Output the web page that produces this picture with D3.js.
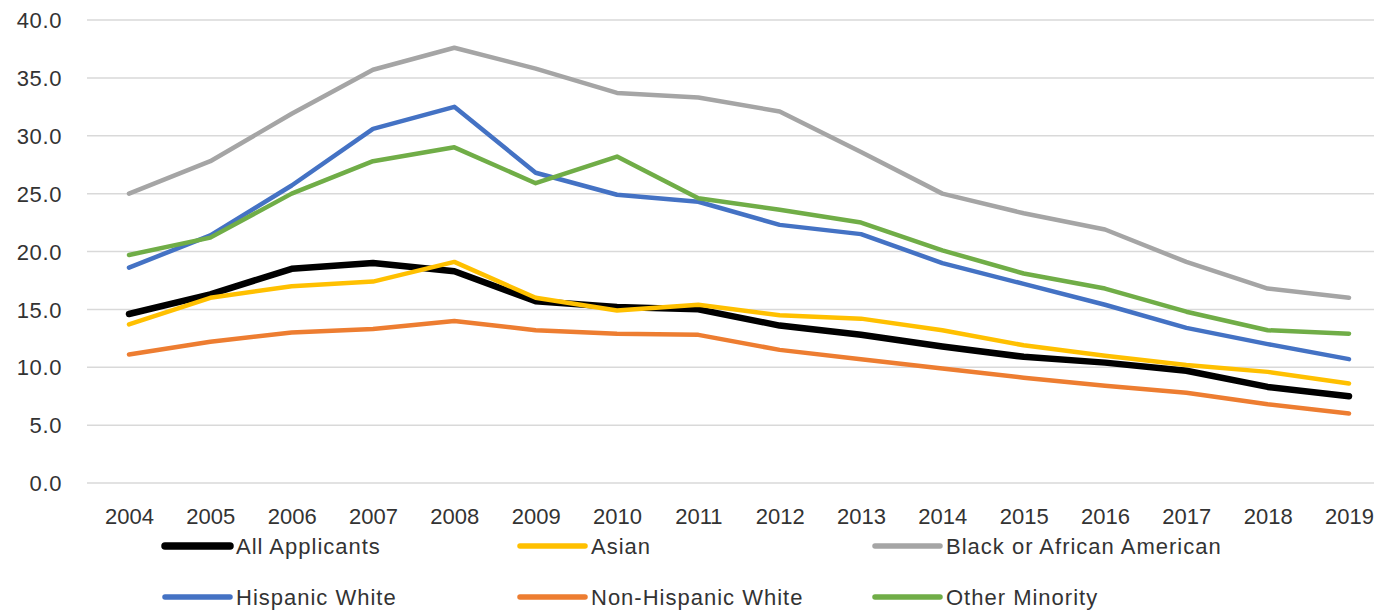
<!DOCTYPE html>
<html>
<head>
<meta charset="utf-8">
<script src="https://cdn.jsdelivr.net/npm/d3@7"></script>
<style>
  html, body { margin: 0; padding: 0; background: #fff; }
  svg text { font-family: "Liberation Sans", Arial, sans-serif; fill: #333333; }
</style>
</head>
<body>
<svg id="chart" width="1378" height="613"></svg>
<script>
// Years on the horizontal axis
const years = [2004, 2005, 2006, 2007, 2008, 2009, 2010, 2011, 2012, 2013, 2014, 2015, 2016, 2017, 2018, 2019];

// Rates by applicant group
const allApplicants   = [14.6, 16.3, 18.5, 19.0, 18.3, 15.7, 15.2, 15.0, 13.6, 12.8, 11.8, 10.9, 10.4, 9.7, 8.3, 7.5];
const asian           = [13.7, 16.0, 17.0, 17.4, 19.1, 16.0, 14.9, 15.4, 14.5, 14.2, 13.2, 11.9, 11.0, 10.2, 9.6, 8.6];
const blackAfrAm      = [25.0, 27.8, 31.9, 35.7, 37.6, 35.8, 33.7, 33.3, 32.1, 28.6, 25.0, 23.3, 21.9, 19.1, 16.8, 16.0];
const hispanicWhite   = [18.6, 21.4, 25.7, 30.6, 32.5, 26.8, 24.9, 24.3, 22.3, 21.5, 19.0, 17.2, 15.4, 13.4, 12.0, 10.7];
const nonHispWhite    = [11.1, 12.2, 13.0, 13.3, 14.0, 13.2, 12.9, 12.8, 11.5, 10.7, 9.9, 9.1, 8.4, 7.8, 6.8, 6.0];
const otherMinority   = [19.7, 21.2, 25.0, 27.8, 29.0, 25.9, 28.2, 24.6, 23.6, 22.5, 20.1, 18.1, 16.8, 14.8, 13.2, 12.9];

// Value axis ticks
const yTicks = [0, 5, 10, 15, 20, 25, 30, 35, 40];

const series = [
  { name: "All Applicants", values: allApplicants, color: "#000000", width: 6.5 },
  { name: "Asian", values: asian, color: "#FFC000", width: 4.5 },
  { name: "Black or African American", values: blackAfrAm, color: "#A5A5A5", width: 4.5 },
  { name: "Hispanic White", values: hispanicWhite, color: "#4472C4", width: 4.5 },
  { name: "Non-Hispanic White", values: nonHispWhite, color: "#ED7D31", width: 4.5 },
  { name: "Other Minority", values: otherMinority, color: "#70AD47", width: 4.5 }
];

const svg = d3.select("#chart");

const plotLeft = 87, plotRight = 1374;
const x = d3.scalePoint().domain(years).range([129, 1349]);
const y = d3.scaleLinear().domain([0, 40]).range([483, 20]);

// Horizontal gridlines
svg.append("g")
  .selectAll("line")
  .data(yTicks)
  .join("line")
  .attr("x1", plotLeft).attr("x2", plotRight)
  .attr("y1", d => y(d)).attr("y2", d => y(d))
  .attr("stroke", "#D9D9D9").attr("stroke-width", 1.5);

// Value axis labels
const yAxis = svg.append("g")
  .attr("transform", `translate(${plotLeft - 25},0)`)
  .call(d3.axisLeft(y).tickValues(yTicks).tickFormat(d3.format(".1f")).tickSize(0).tickPadding(0));
yAxis.select(".domain").remove();
yAxis.selectAll("text")
  .style("font-size", "22px")
  .style("letter-spacing", "0.6px")
  .attr("fill", "#333333")
  .attr("dy", "0.35em");

// Year labels
const xAxis = svg.append("g")
  .attr("transform", "translate(0,508)")
  .call(d3.axisBottom(x).tickSize(0).tickPadding(0));
xAxis.select(".domain").remove();
xAxis.selectAll("text")
  .style("font-size", "22px")
  .attr("fill", "#333333")
  .attr("dy", "0.71em");

// Series lines
const line = d3.line()
  .x((d, i) => x(years[i]))
  .y(d => y(d));

svg.append("g")
  .selectAll("path")
  .data(series)
  .join("path")
  .attr("d", d => line(d.values))
  .attr("fill", "none")
  .attr("stroke", d => d.color)
  .attr("stroke-width", d => d.width)
  .attr("stroke-linejoin", "round")
  .attr("stroke-linecap", "round");

// Legend: three columns, two rows
const legend = svg.append("g");
const colX = [165, 520, 875];
const rowY = [546, 597];
const items = legend.selectAll("g")
  .data(series)
  .join("g")
  .attr("transform", (d, i) => `translate(${colX[i % 3]},${rowY[Math.floor(i / 3)]})`);
items.append("line")
  .attr("x1", 0).attr("x2", 65)
  .attr("y1", 0).attr("y2", 0)
  .attr("stroke", d => d.color)
  .attr("stroke-width", d => d.width + 1)
  .attr("stroke-linecap", "round");
items.append("text")
  .attr("x", 71)
  .attr("dy", "0.36em")
  .style("font-size", "22px")
  .style("letter-spacing", "1px")
  .attr("fill", "#333333")
  .text(d => d.name);
</script>
</body>
</html>
